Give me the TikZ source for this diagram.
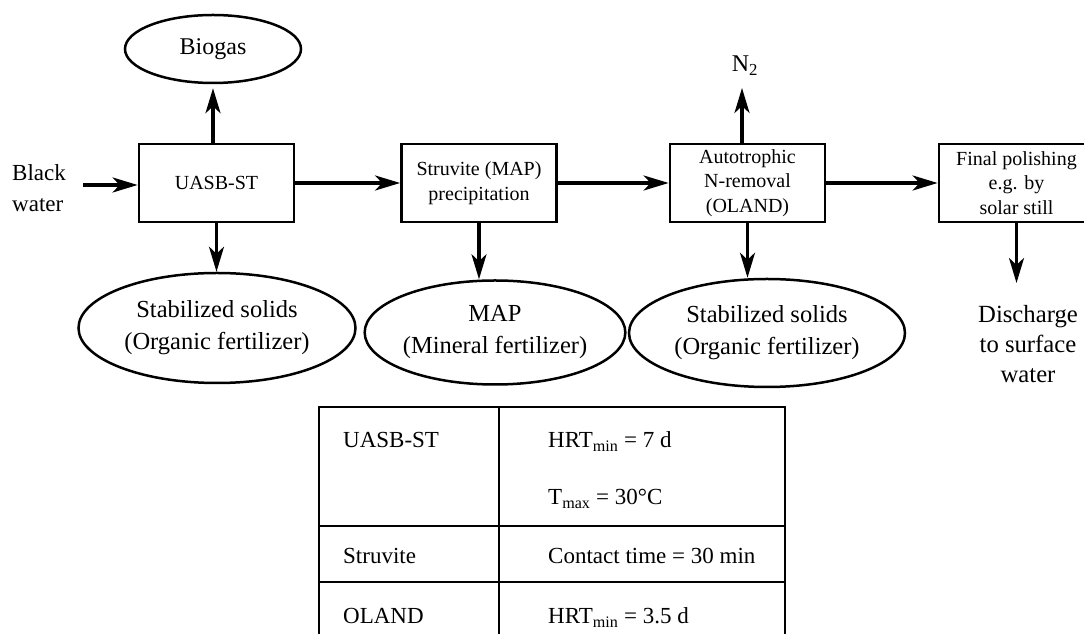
\documentclass[tikz,border=0pt]{standalone}
\usepackage{fontspec}
\setmainfont{Liberation Serif}
\usetikzlibrary{arrows.meta,shapes.geometric,calc}
\begin{document}
\begin{tikzpicture}[x=1pt,y=1pt,
  proc/.style={draw, line width=2.8pt, minimum width=155pt, minimum height=78pt, inner sep=0pt, align=center, font=\fontsize{20}{24.5}\selectfont},
  prod/.style={draw, ellipse, line width=2.5pt, inner sep=0pt, align=center, font=\fontsize{24.5}{32}\selectfont},
  arr/.style={line width=3.3pt, -{Stealth[length=25pt,width=15pt,inset=7pt]}},
  lbl/.style={inner sep=0pt, align=center, font=\fontsize{24.5}{30}\selectfont},
  tbl/.style={line width=2.5pt},
  tblin/.style={line width=1.8pt},
  cell/.style={anchor=base west, inner sep=0pt, font=\fontsize{23}{28}\selectfont}]
\useasboundingbox (0,0) rectangle (1084,634);
\clip (0,0) rectangle (1084,634);

% process boxes
\node[proc] (uasb)  at (216.5,451) {UASB-ST};
\node[proc] (struv) at (479,451) {Struvite (MAP)\\precipitation};
\node[proc] (oland) at (747.5,451) {Autotrophic\\N-removal\\(OLAND)};
\node[proc] (final) at (1016.5,451) {Final polishing\\e.g. by\\solar still};

% products
\node[prod, minimum width=176pt, minimum height=68pt, font=\fontsize{24}{30}\selectfont] (biogas) at (213,585) {Biogas};
\node[prod, minimum width=277pt, minimum height=110pt] (e1) at (217,306) {Stabilized solids\\(Organic fertilizer)};
\node[prod, minimum width=260pt, minimum height=104pt] (e2) at (495,301.5) {MAP\\(Mineral fertilizer)};
\node[prod, minimum width=276pt, minimum height=108pt] (e3) at (767,301) {Stabilized solids\\(Organic fertilizer)};

% free labels
\node[lbl, anchor=west, align=left, font=\fontsize{23}{31}\selectfont] (bw) at (12,446) {Black\\water};
\node[lbl, anchor=base, font=\fontsize{24}{30}\selectfont] (n2) at (745,562) {N\textsubscript{2}};
\node[lbl, font=\fontsize{24.7}{30}\selectfont] (dis) at (1028,290) {Discharge\\to surface\\water};

\coordinate (bwin) at (83,449);
\coordinate (n2tip) at (742,546);
\coordinate (distip) at (1016.5,351);

% connectors
\draw[arr] (bwin) -- (bwin -| uasb.west);
\draw[arr] (uasb.east) -- (struv.west);
\draw[arr] (struv.east) -- (oland.west);
\draw[arr] (oland.east) -- (final.west);
\draw[arr, shorten >=4pt] (biogas.south |- uasb.north) -- (biogas.south);
\draw[arr] (n2tip |- oland.north) -- (n2tip);
\draw[arr] (uasb.south) -- (uasb.south |- e1.north);
\draw[arr] (struv.south) -- (struv.south |- e2.north);
\draw[arr] (oland.south) -- (oland.south |- e3.north);
\draw[arr] (final.south) -- (distip);

% table
\draw[tbl] (319,-10) -- (319,227) -- (785,227) -- (785,-10);
\draw[tblin] (499,227) -- (499,-10);
\draw[tblin] (319,108) -- (785,108);
\draw[tbl] (319,52) -- (785,52);

\node[cell] (t11) at (343,186.5) {UASB-ST};
\node[cell] (t12) at (548,186.5) {HRT\textsubscript{min} = 7 d};
\node[cell] (t13) at (548,129) {T\textsubscript{max} = 30°C};
\node[cell] (t21) at (343,70) {Struvite};
\node[cell] (t22) at (548,70) {Contact time = 30 min};
\node[cell] (t31) at (343,10) {OLAND};
\node[cell] (t32) at (548,10) {HRT\textsubscript{min} = 3.5 d};
\end{tikzpicture}
\end{document}
